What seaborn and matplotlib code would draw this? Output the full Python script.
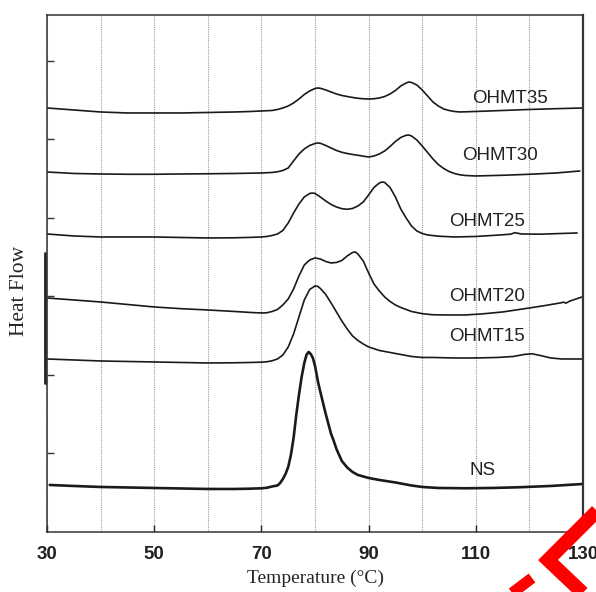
import numpy as np
import pandas as pd
import matplotlib
matplotlib.use('Agg')
import matplotlib.pyplot as plt
from matplotlib.lines import Line2D
import seaborn as sns

sns.set_style('ticks')
plt.rcParams['font.family'] = ['Liberation Sans', 'DejaVu Sans']

# DSC curves, heat flow in arbitrary units (curves are offset vertically)
ohmt35_t = [30, 35, 40, 45, 50, 55, 60, 65, 68, 70, 72, 73, 74, 75, 76, 77, 78, 79, 80, 80.5, 81, 82,
            83, 84, 85, 86, 87, 88, 89, 90, 91, 92, 93, 94, 95, 96, 97, 97.5, 98, 99, 100, 101, 102,
            103, 104, 105, 106, 107, 110, 115, 120, 125, 130]
ohmt35_y = [42.4, 42.2, 42.0, 41.9, 41.9, 41.9, 41.95, 42.0, 42.05, 42.1, 42.15, 42.25, 42.4, 42.6,
            42.9, 43.3, 43.75, 44.1, 44.35, 44.4, 44.37, 44.2, 44.0, 43.8, 43.65, 43.55, 43.45, 43.37,
            43.32, 43.3, 43.32, 43.4, 43.55, 43.8, 44.15, 44.6, 44.9, 45.0, 44.95, 44.7, 44.2, 43.6,
            43.0, 42.6, 42.3, 42.15, 42.05, 42.0, 42.05, 42.15, 42.25, 42.33, 42.4]

ohmt30_t = [30, 35, 40, 45, 50, 55, 60, 65, 68, 70, 72, 73, 74, 75, 76, 77, 78, 79, 80, 80.5, 81, 82,
            83, 84, 85, 86, 87, 88, 89, 90, 91, 92, 93, 94, 95, 96, 97, 97.5, 98, 99, 100, 101, 102,
            103, 104, 105, 106, 107, 108, 110, 115, 120, 125, 129.4]
ohmt30_y = [36.0, 35.85, 35.8, 35.77, 35.77, 35.8, 35.82, 35.85, 35.88, 35.9, 35.95, 36.02, 36.15,
            36.4, 37.1, 37.8, 38.3, 38.65, 38.85, 38.9, 38.87, 38.65, 38.4, 38.15, 37.97, 37.85, 37.75,
            37.67, 37.58, 37.5, 37.6, 37.8, 38.1, 38.55, 39.05, 39.45, 39.67, 39.7, 39.6, 39.2, 38.6,
            37.95, 37.3, 36.75, 36.35, 36.05, 35.85, 35.72, 35.65, 35.6, 35.67, 35.77, 35.9, 36.1]

ohmt25_t = [30, 35, 40, 45, 50, 55, 60, 65, 68, 70, 71, 72, 73, 74, 75, 76, 77, 78, 79, 79.5, 80, 81,
            82, 83, 84, 85, 86, 87, 88, 89, 90, 91, 92, 92.5, 93, 94, 95, 96, 97, 98, 99, 100, 101,
            103, 106, 110, 114.5, 116.5, 117.3, 118.5, 122, 128.9]
ohmt25_y = [29.8, 29.6, 29.5, 29.5, 29.5, 29.45, 29.4, 29.42, 29.46, 29.5, 29.55, 29.65, 29.8, 30.15,
            30.9, 31.9, 32.8, 33.5, 33.85, 33.9, 33.85, 33.5, 33.1, 32.75, 32.5, 32.33, 32.27, 32.35,
            32.6, 33.0, 33.7, 34.45, 34.9, 35.0, 34.95, 34.45, 33.5, 32.3, 31.4, 30.6, 30.1, 29.85,
            29.7, 29.58, 29.5, 29.55, 29.7, 29.78, 29.93, 29.8, 29.78, 29.9]

ohmt20_t = [30, 35, 40, 45, 50, 55, 60, 65, 68, 70, 71, 72, 73, 74, 75, 76, 77, 78, 79, 80, 81, 82,
            83, 84, 85, 86, 87, 87.5, 88, 89, 90, 91, 92, 93, 94, 95, 96, 97, 98, 100, 102, 105, 108,
            111, 115, 120, 123, 125.7, 126.4, 126.8, 127.5, 129.8]
ohmt20_y = [23.4, 23.2, 23.0, 22.75, 22.5, 22.33, 22.2, 22.05, 21.95, 21.9, 21.92, 22.05, 22.25, 22.7,
            23.3, 24.3, 25.6, 26.7, 27.2, 27.4, 27.3, 27.05, 26.9, 26.95, 27.15, 27.6, 27.95, 28.0,
            27.8, 27.1, 25.9, 24.8, 24.1, 23.5, 23.05, 22.7, 22.45, 22.25, 22.05, 21.83, 21.72, 21.7,
            21.7, 21.8, 22.0, 22.4, 22.65, 22.9, 22.98, 22.88, 23.08, 23.5]

ohmt15_t = [30, 35, 40, 45, 50, 55, 60, 65, 68, 70, 71, 72, 73, 74, 75, 76, 77, 78, 79, 80, 80.5, 81,
            82, 83, 84, 85, 86, 87, 88, 89, 90, 92, 94, 96, 98, 100, 102, 106, 110, 114, 117, 119,
            120.5, 122, 124, 126, 130]
ohmt15_y = [17.3, 17.2, 17.1, 17.05, 17.0, 16.95, 16.9, 16.92, 16.95, 16.98, 17.02, 17.12, 17.3, 17.7,
            18.5, 19.8, 21.5, 23.2, 24.25, 24.6, 24.57, 24.35, 23.75, 22.9, 22.0, 21.1, 20.3, 19.6,
            19.15, 18.8, 18.5, 18.15, 17.95, 17.75, 17.55, 17.45, 17.45, 17.4, 17.4, 17.45, 17.55,
            17.75, 17.82, 17.65, 17.4, 17.3, 17.3]

ns_t = [30.5, 35, 40, 45, 50, 55, 60, 65, 68, 70, 71, 72, 73, 73.5, 74, 74.5, 75, 75.5, 76, 76.5, 77,
        77.5, 78, 78.4, 78.8, 79.2, 79.6, 80, 80.6, 81, 81.5, 82, 83, 83.5, 84, 85, 86, 87, 88, 90, 92,
        95, 98, 100, 103, 108, 113, 118, 124, 130]
ns_y = [4.7, 4.6, 4.5, 4.45, 4.4, 4.35, 4.3, 4.3, 4.33, 4.37, 4.42, 4.55, 4.65, 4.9, 5.3, 5.8, 6.5,
        7.7, 9.4, 11.7, 13.7, 15.5, 16.9, 17.7, 18.0, 17.8, 17.4, 16.6, 14.9, 14.0, 12.9, 11.8, 9.8,
        9.1, 8.3, 7.1, 6.45, 6.0, 5.7, 5.4, 5.2, 4.95, 4.65, 4.5, 4.4, 4.37, 4.4, 4.47, 4.6, 4.8]

samples = ['OHMT35', 'OHMT30', 'OHMT25', 'OHMT20', 'OHMT15', 'NS']
label_t = [116.4, 114.5, 112.1, 112.1, 112.1, 111.3]
label_y = [43.3, 37.6, 31.0, 23.5, 19.5, 6.1]

curves = {'OHMT35': (ohmt35_t, ohmt35_y), 'OHMT30': (ohmt30_t, ohmt30_y),
          'OHMT25': (ohmt25_t, ohmt25_y), 'OHMT20': (ohmt20_t, ohmt20_y),
          'OHMT15': (ohmt15_t, ohmt15_y), 'NS': (ns_t, ns_y)}

fig = plt.figure(figsize=(5.96, 5.92), dpi=100)
ax = fig.add_axes([0.0789, 0.1014, 0.8993, 0.8733])

for s in samples:
    t, y = curves[s]
    df = pd.DataFrame({'T': t, 'HF': y})
    sns.lineplot(data=df, x='T', y='HF', ax=ax, color='#1a1a1a', sort=False, estimator=None,
                 linewidth=1.9 if s == 'NS' else 1.2)

for s, tx, ty in zip(samples, label_t, label_y):
    ax.text(tx, ty, s, ha='center', va='center', fontsize=13.5, color='#222222')

ax.set_xlim(30, 130)
ax.set_ylim(0, 51.7)
ax.set_xticks(np.arange(30, 131, 20))
ax.set_xticks(np.arange(40, 121, 10), minor=True)
ax.set_yticks([7.85, 15.7, 23.55, 31.4, 39.25, 47.1])
ax.set_yticklabels([])
ax.xaxis.grid(True, which='both', linestyle=(0, (1, 1)), color='#9a9a9a', linewidth=0.8)
ax.tick_params(axis='x', which='major', direction='in', length=5, width=1, pad=10,
               labelsize=13.5, colors='#222222')
ax.tick_params(axis='x', which='minor', length=0)
ax.tick_params(axis='y', direction='in', length=5, width=1, color='#333333')
for lab in ax.get_xticklabels():
    lab.set_fontweight('bold')
for side in ['left', 'bottom', 'top']:
    ax.spines[side].set_color('#333333')
    ax.spines[side].set_linewidth(1.1)
ax.spines['right'].set_color('#333333')
ax.spines['right'].set_linewidth(1.6)

ax.set_xlabel('Temperature (°C)', family=['Liberation Serif', 'DejaVu Serif'], fontsize=14, labelpad=5)
ax.set_ylabel('Heat Flow', family=['Liberation Serif', 'DejaVu Serif'], fontsize=15.5)
ax.yaxis.set_label_coords(-0.034, 0.466)

# thick mark on the left axis
ax.plot([-0.004, -0.004], [0.288, 0.540], transform=ax.transAxes, clip_on=False,
        color='#222222', linewidth=2)

# red chevron in the corner
def px(x, y):
    return x / 596, 1 - y / 592

chev = [px(600, 508), px(548, 560), px(588, 598)]
fig.add_artist(Line2D([p[0] for p in chev], [p[1] for p in chev], color='red', linewidth=10,
                      solid_joinstyle='miter', solid_capstyle='butt'))
bit = [px(503, 600), px(532, 578)]
fig.add_artist(Line2D([p[0] for p in bit], [p[1] for p in bit], color='red', linewidth=8,
                      solid_capstyle='butt'))

fig.savefig('out.png', dpi=100)
